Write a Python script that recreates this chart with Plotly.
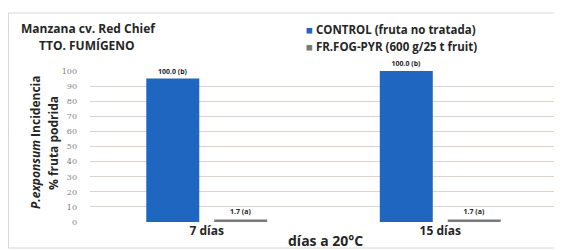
import plotly.graph_objects as go

categories = ["7 días", "15 días"]
control_values = [95, 100]
control_labels = ["100.0 (b)", "100.0 (b)"]
treated_values = [1.7, 1.7]
treated_labels = ["1.7 (a)", "1.7 (a)"]
series_names = ["CONTROL (fruta no tratada)", "FR.FOG-PYR (600 g/25 t fruit)"]
y_ticks = [0, 10, 20, 30, 40, 50, 60, 70, 80, 90, 100]

BLUE = "#1f66c1"
GRAY = "#7a7a7a"
TXT = "#262626"
FONT = "Open Sans"

# page has an 8px body margin; work in page pixels and shift
O = 8
W, H = 562 - O, 250 - O
L, R, T, B = 90 - O, 5, 71 - O, 28
PW, PH = W - L - R, H - T - B


def px(x):
    return (x - O - L) / PW


def py(y):
    return (H - B - (y - O)) / PH


fig = go.Figure()
fig.add_trace(go.Bar(
    x=categories, y=control_values, name=series_names[0],
    marker=dict(color=BLUE, line=dict(width=0)),
    text=control_labels, textposition="outside", cliponaxis=False,
    textfont=dict(size=7, color=TXT, family=FONT, weight="bold"),
))
fig.add_trace(go.Bar(
    x=categories, y=treated_values, name=series_names[1],
    marker=dict(color=GRAY, line=dict(width=0)),
    text=treated_labels, textposition="outside", cliponaxis=False,
    textfont=dict(size=7, color=TXT, family=FONT, weight="bold"),
))

fig.update_layout(
    width=W, height=H,
    margin=dict(l=L, r=R, t=T, b=B, autoexpand=False),
    paper_bgcolor="white", plot_bgcolor="white",
    barmode="group", bargap=0.418, bargroupgap=0.22,
    font=dict(family=FONT, color=TXT),
    showlegend=False,
    xaxis=dict(
        showgrid=False, showline=False, ticks="",
        tickfont=dict(size=12, color=TXT, family=FONT, weight="bold"),
    ),
    yaxis=dict(
        range=[0, 100], tickvals=y_ticks, showline=False, zeroline=False,
        gridcolor="#ddd3cc", gridwidth=1, ticks="",
        tickfont=dict(size=8, color="#808080", family="DejaVu Serif"),
        ticklabelstandoff=12,
    ),
)

# outer frame
fig.add_shape(type="rect", xref="paper", yref="paper",
              x0=px(8.5), x1=px(559), y0=py(248), y1=py(13),
              line=dict(color="#d6d6d6", width=1), fillcolor="rgba(0,0,0,0)", layer="below")

# legend (drawn as text with coloured squares)
for i, (name, col) in enumerate(zip(series_names, [BLUE, GRAY])):
    fig.add_annotation(text=f'<span style="color:{col}">■</span> {name}', xref="paper", yref="paper",
                       x=px(304), y=py(30 + 16 * i), showarrow=False,
                       font=dict(size=11.5, color=TXT, family=FONT, weight="bold"),
                       xanchor="left", yanchor="middle")

# title
fig.add_annotation(text="Manzana cv. Red Chief", xref="paper", yref="paper",
                   x=px(88), y=py(28), showarrow=False,
                   font=dict(size=12, color=TXT, family=FONT, weight="bold"), xanchor="center", yanchor="middle")
fig.add_annotation(text="TTO. FUMÍGENO", xref="paper", yref="paper",
                   x=px(87), y=py(45), showarrow=False,
                   font=dict(size=12, color=TXT, family=FONT, weight="bold"), xanchor="center", yanchor="middle")

# y axis title (two lines)
fig.add_annotation(text="<i>P.exponsum</i> Incidencia", xref="paper", yref="paper",
                   x=px(35), y=py(143), showarrow=False, textangle=-90,
                   font=dict(size=12, color=TXT, family=FONT, weight="bold"), xanchor="center", yanchor="middle")
fig.add_annotation(text="% fruta podrida", xref="paper", yref="paper",
                   x=px(53), y=py(143), showarrow=False, textangle=-90,
                   font=dict(size=12, color=TXT, family=FONT, weight="bold"), xanchor="center", yanchor="middle")

# x axis title
fig.add_annotation(text="días a 20°C", xref="paper", yref="paper",
                   x=px(325), y=py(240), showarrow=False,
                   font=dict(size=14, color=TXT, family=FONT, weight="bold"), xanchor="center", yanchor="middle")

fig.write_html("out.html")
